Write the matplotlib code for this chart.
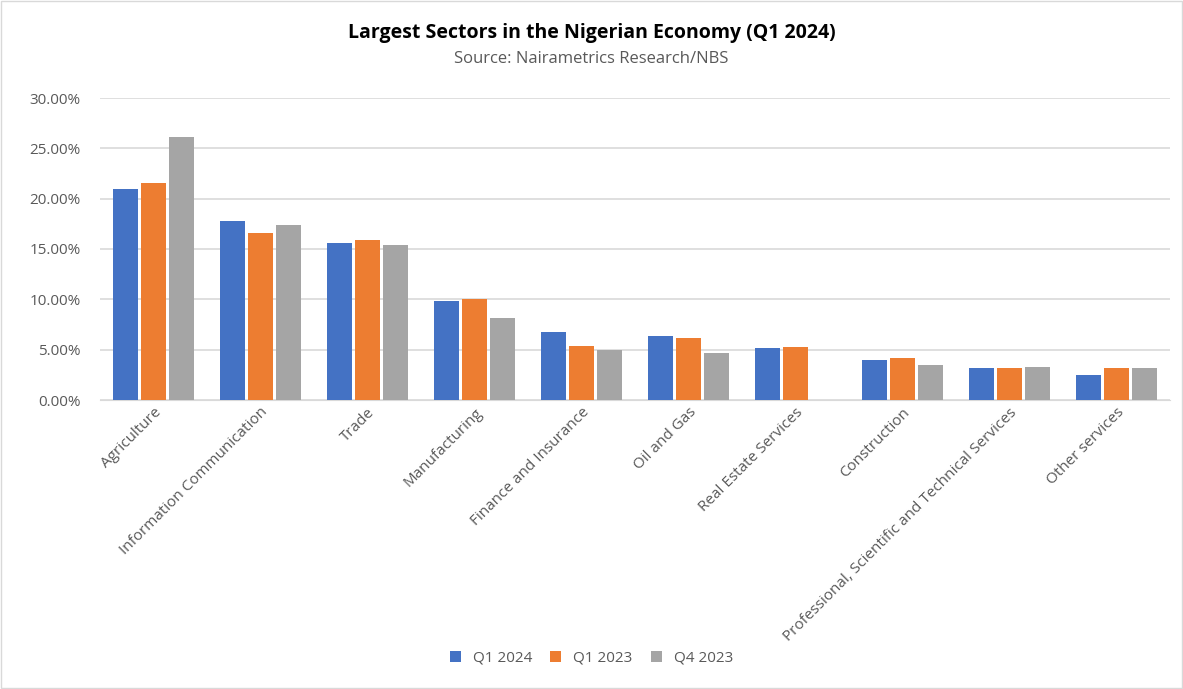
import matplotlib
matplotlib.use("Agg")
import matplotlib.pyplot as plt
import numpy as np

plt.rcParams['font.family'] = ['Open Sans', 'DejaVu Sans']

sectors = ["Agriculture", "Information Communication", "Trade", "Manufacturing",
           "Finance and Insurance", "Oil and Gas", "Real Estate Services",
           "Construction", "Professional, Scientific and Technical Services",
           "Other services"]
q1_2024 = [20.95, 17.8, 15.6, 9.85, 6.75, 6.35, 5.15, 3.95, 3.15, 2.5]
q1_2023 = [21.55, 16.6, 15.9, 10.05, 5.35, 6.15, 5.25, 4.15, 3.15, 3.15]
q4_2023 = [26.1, 17.4, 15.4, 8.15, 4.95, 4.65, 0.0, 3.45, 3.25, 3.15]
series = ["Q1 2024", "Q1 2023", "Q4 2023"]
colors = ["#4472C4", "#ED7D31", "#A5A5A5"]

fig = plt.figure(figsize=(11.83, 6.89), dpi=100)
ax = fig.add_axes([100/1183, 1-400/689, 1070/1183, 302/689])

x = np.arange(len(sectors))
w = 0.23
for i, (vals, name, c) in enumerate(zip([q1_2024, q1_2023, q4_2023], series, colors)):
    ax.bar(x + (i - 1) * (w + 0.03), vals, w, color=c, label=name, zorder=3)

ax.set_xlim(-0.5, len(sectors) - 0.5)
ax.set_ylim(0, 30)
ax.set_yticks(np.arange(0, 31, 5))
ax.set_yticklabels([f"{v:.2f}%" for v in np.arange(0, 31, 5)], color="#595959", fontsize=11)
ax.yaxis.grid(True, color="#D9D9D9", linewidth=1.2, zorder=0)
ax.tick_params(axis="both", length=0)
ax.tick_params(axis="y", pad=14)
ax.set_xticks(x)
ax.set_xticklabels(sectors, rotation=45, ha="right", rotation_mode="anchor",
                   color="#595959", fontsize=11)
for s in ax.spines.values():
    s.set_visible(False)
ax.spines["bottom"].set_visible(True)
ax.spines["bottom"].set_color("#D9D9D9")

fig.text(0.5, 1-33/689, "Largest Sectors in the Nigerian Economy (Q1 2024)",
         ha="center", va="center", fontsize=14, fontweight="bold", color="black")
fig.text(0.5, 1-59/689, "Source: Nairametrics Research/NBS",
         ha="center", va="center", fontsize=12, color="#595959")

fig.legend(loc="center", bbox_to_anchor=(0.5, 1-658/689), ncol=3, frameon=False,
           fontsize=11, handlelength=0.7, handleheight=0.7, columnspacing=1.2,
           labelcolor="#595959")

fig.patches.append(plt.Rectangle((0.001, 0.001), 0.998, 0.998, transform=fig.transFigure,
                                 fill=False, edgecolor="#D9D9D9", linewidth=1))
fig.savefig("out.png", dpi=100)
